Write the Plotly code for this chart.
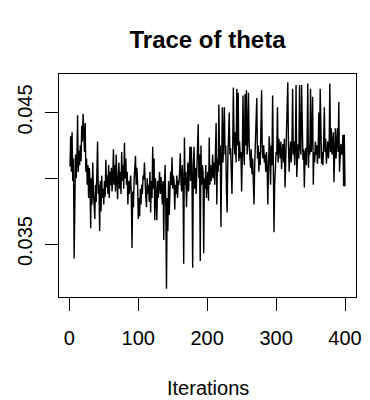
import plotly.graph_objects as go

# theta trace, iterations 1-100
theta_001_100 = [
    0.0409, 0.0432, 0.0405, 0.0435, 0.0398, 0.0415, 0.0339, 0.0402, 0.0418, 0.0400,
    0.0412, 0.0448, 0.0405, 0.0421, 0.0410, 0.0425, 0.0413, 0.0440, 0.0428, 0.0449,
    0.0438, 0.0420, 0.0442, 0.0405, 0.0415, 0.0395, 0.0410, 0.0385, 0.0408, 0.0398,
    0.0362, 0.0400, 0.0380, 0.0412, 0.0390, 0.0375, 0.0369, 0.0395, 0.0382, 0.0405,
    0.0428, 0.0388, 0.0395, 0.0360, 0.0398, 0.0375, 0.0402, 0.0385, 0.0392, 0.0380,
    0.0398, 0.0386, 0.0414, 0.0393, 0.0402, 0.0388, 0.0410, 0.0385, 0.0405, 0.0395,
    0.0408, 0.0390, 0.0400, 0.0422, 0.0395, 0.0410, 0.0390, 0.0418, 0.0396, 0.0384,
    0.0400, 0.0412, 0.0392, 0.0405, 0.0388, 0.0420, 0.0398, 0.0410, 0.0392, 0.0427,
    0.0400, 0.0415, 0.0395, 0.0405, 0.0380, 0.0398, 0.0388, 0.0393, 0.0402, 0.0385,
    0.0347, 0.0390, 0.0378, 0.0398, 0.0405, 0.0417, 0.0395, 0.0408, 0.0398, 0.0369,
]
# iterations 101-200
theta_101_200 = [
    0.0385, 0.0371, 0.0392, 0.0380, 0.0395, 0.0388, 0.0402, 0.0399, 0.0412, 0.0390,
    0.0385, 0.0378, 0.0400, 0.0388, 0.0395, 0.0382, 0.0405, 0.0374, 0.0398, 0.0385,
    0.0424, 0.0392, 0.0415, 0.0368, 0.0400, 0.0385, 0.0368, 0.0398, 0.0385, 0.0395,
    0.0405, 0.0388, 0.0401, 0.0392, 0.0380, 0.0398, 0.0353, 0.0395, 0.0410, 0.0378,
    0.0316, 0.0385, 0.0360, 0.0398, 0.0372, 0.0390, 0.0405, 0.0395, 0.0416, 0.0392,
    0.0402, 0.0398, 0.0376, 0.0395, 0.0388, 0.0402, 0.0385, 0.0398, 0.0395, 0.0405,
    0.0419, 0.0398, 0.0390, 0.0410, 0.0395, 0.0335, 0.0431, 0.0395, 0.0405, 0.0378,
    0.0398, 0.0412, 0.0390, 0.0405, 0.0424, 0.0398, 0.0424, 0.0400, 0.0332, 0.0410,
    0.0424, 0.0392, 0.0408, 0.0388, 0.0402, 0.0415, 0.0441, 0.0400, 0.0418, 0.0337,
    0.0425, 0.0395, 0.0410, 0.0405, 0.0343, 0.0400, 0.0392, 0.0410, 0.0385, 0.0398,
]
# iterations 201-300
theta_201_300 = [
    0.0405, 0.0383, 0.0431, 0.0395, 0.0410, 0.0398, 0.0403, 0.0418, 0.0400, 0.0412,
    0.0395, 0.0420, 0.0442, 0.0380, 0.0415, 0.0405, 0.0456, 0.0410, 0.0425, 0.0363,
    0.0420, 0.0454, 0.0412, 0.0430, 0.0454, 0.0418, 0.0425, 0.0390, 0.0374, 0.0415,
    0.0428, 0.0450, 0.0418, 0.0423, 0.0405, 0.0388, 0.0420, 0.0469, 0.0430, 0.0418,
    0.0435, 0.0412, 0.0468, 0.0425, 0.0465, 0.0413, 0.0428, 0.0415, 0.0420, 0.0390,
    0.0418, 0.0463, 0.0420, 0.0410, 0.0464, 0.0425, 0.0467, 0.0418, 0.0430, 0.0465,
    0.0425, 0.0418, 0.0408, 0.0422, 0.0403, 0.0415, 0.0398, 0.0380, 0.0410, 0.0425,
    0.0446, 0.0461, 0.0415, 0.0425, 0.0405, 0.0420, 0.0410, 0.0432, 0.0467, 0.0420,
    0.0415, 0.0425, 0.0412, 0.0418, 0.0405, 0.0420, 0.0410, 0.0380, 0.0415, 0.0432,
    0.0420, 0.0395, 0.0425, 0.0410, 0.0463, 0.0405, 0.0359, 0.0395, 0.0410, 0.0420,
]
# iterations 301-400
theta_301_400 = [
    0.0418, 0.0454, 0.0412, 0.0430, 0.0424, 0.0415, 0.0428, 0.0407, 0.0420, 0.0426,
    0.0412, 0.0430, 0.0393, 0.0420, 0.0435, 0.0471, 0.0473, 0.0425, 0.0405, 0.0420,
    0.0428, 0.0412, 0.0425, 0.0468, 0.0418, 0.0428, 0.0410, 0.0425, 0.0471, 0.0401,
    0.0420, 0.0426, 0.0415, 0.0471, 0.0425, 0.0418, 0.0471, 0.0430, 0.0414, 0.0422,
    0.0393, 0.0418, 0.0423, 0.0410, 0.0428, 0.0472, 0.0408, 0.0425, 0.0418, 0.0468,
    0.0420, 0.0430, 0.0462, 0.0395, 0.0420, 0.0412, 0.0428, 0.0418, 0.0425, 0.0411,
    0.0420, 0.0450, 0.0415, 0.0468, 0.0425, 0.0411, 0.0420, 0.0410, 0.0428, 0.0454,
    0.0420, 0.0430, 0.0411, 0.0422, 0.0428, 0.0415, 0.0425, 0.0472, 0.0420, 0.0438,
    0.0418, 0.0425, 0.0435, 0.0397, 0.0420, 0.0438, 0.0415, 0.0425, 0.0438, 0.0420,
    0.0458, 0.0405, 0.0420, 0.0426, 0.0418, 0.0422, 0.0433, 0.0394, 0.0433, 0.0394,
]

x_ticks = [0, 100, 200, 300, 400]
y_ticks = [0.035, 0.040, 0.045]
y_tick_labels = ["0.035", "", "0.045"]

theta = theta_001_100 + theta_101_200 + theta_201_300 + theta_301_400
iterations = list(range(1, len(theta) + 1))

n = len(theta)
xpad = 0.04 * (n - 1)
ymin, ymax = min(theta), max(theta)
ypad = 0.04 * (ymax - ymin)

FONT = "Liberation Sans, Arial, sans-serif"

fig = go.Figure(go.Scatter(
    x=iterations, y=theta, mode="lines",
    line=dict(color="black", width=1.4),
    hoverinfo="skip",
))

axis_common = dict(
    showline=True, mirror=True, linecolor="black", linewidth=1,
    ticks="outside", ticklen=13, tickwidth=1, tickcolor="black",
    showgrid=False, zeroline=False,
    tickfont=dict(family=FONT, size=20, color="black"),
)

fig.update_xaxes(
    range=[1 - xpad, n + xpad],
    tickvals=x_ticks, ticktext=[str(v) for v in x_ticks],
    ticklabelstandoff=10,
    **axis_common,
)
fig.update_yaxes(
    range=[ymin - ypad, ymax + ypad],
    tickvals=y_ticks, ticktext=y_tick_labels,
    tickangle=-90,
    ticklabelstandoff=5,
    **axis_common,
)

fig.update_layout(
    width=370, height=400,
    margin=dict(l=59, r=9, t=74, b=103),
    paper_bgcolor="white", plot_bgcolor="white",
    showlegend=False,
    font=dict(family=FONT, color="black"),
    title=dict(
        text="<b>Trace of theta</b>",
        font=dict(family=FONT, size=24, color="black"),
        x=0.5, xref="paper", xanchor="center",
        y=1 - 40 / 400, yref="container", yanchor="middle",
    ),
    annotations=[dict(
        text="Iterations", xref="paper", yref="paper",
        x=0.5, y=(297 - 388) / 223, xanchor="center", yanchor="middle",
        showarrow=False, font=dict(family=FONT, size=20, color="black"),
    )],
)

fig.write_html("out.html")
